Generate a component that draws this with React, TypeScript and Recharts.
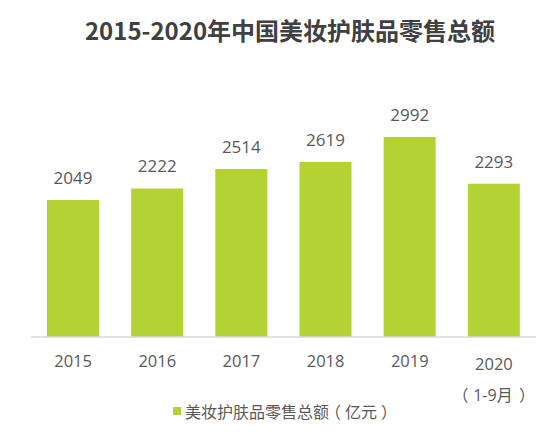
import React from 'react';
import { BarChart, Bar, XAxis, YAxis, LabelList } from 'recharts';

const title = '2015-2020年中国美妆护肤品零售总额';
const years = ['2015', '2016', '2017', '2018', '2019', '2020'];
const subLabels = ['', '', '', '', '', '（1-9月）'];
const retail = [2049, 2222, 2514, 2619, 2992, 2293];
const seriesName = '美妆护肤品零售总额（亿元）';

const data = years.map((y, i) => ({ year: y, sub: subLabels[i], value: retail[i] }));

const BAR = '#b3d334';
const TXT = '#595959';
const FONT = '"Open Sans", "Noto Sans CJK SC", sans-serif';
const halt: any = { fontFeatureSettings: '"halt"' };

// split a label into [open paren, inner, close paren] if wrapped in fullwidth parens
const splitParen = (s: string) => {
  const m = s.match(/^(.*?)（(.*)）$/);
  return m ? { pre: m[1], inner: m[2] } : null;
};

const Tick = (props: any) => {
  const { x, y, payload, index } = props;
  const sub = subLabels[index] ?? '';
  if (sub) {
    const p = splitParen(sub);
    return (
      <g>
        <text x={x} y={y + 33} textAnchor="middle" fill={TXT} fontSize={16.5} fontFamily={FONT}>{payload.value}</text>
        {p ? (
          <text y={y + 64} textAnchor="middle" fill={TXT} fontSize={16} fontFamily={FONT}>
            <tspan x={x - 29.5} style={halt}>（</tspan>
            <tspan x={x - 1}>{p.inner}</tspan>
            <tspan x={x + 29} style={halt}>）</tspan>
          </text>
        ) : (
          <text x={x} y={y + 64} textAnchor="middle" fill={TXT} fontSize={16} fontFamily={FONT}>{sub}</text>
        )}
      </g>
    );
  }
  return (
    <text x={x} y={y + 30} textAnchor="middle" fill={TXT} fontSize={16.5} fontFamily={FONT}>{payload.value}</text>
  );
};

const parenBox: any = { display: 'inline-block', width: '1em', textAlign: 'center', fontFeatureSettings: '"halt"' };

const LegendText = ({ text }: { text: string }) => {
  const p = splitParen(text);
  if (!p) return <span>{text}</span>;
  return (
    <span style={{ whiteSpace: 'nowrap' }}>
      {p.pre}
      <span style={parenBox}>（</span>
      {p.inner}
      <span style={parenBox}>）</span>
    </span>
  );
};

export default function App() {
  return (
    <div style={{ position: 'absolute', left: 0, top: 0, width: 553, height: 432, background: '#fff', overflow: 'hidden' }}>
      <div style={{ position: 'absolute', left: 0, top: 13, width: 580, textAlign: 'center', fontFamily: '"Noto Sans CJK SC", sans-serif', fontWeight: 700, fontSize: 24, color: '#404040', lineHeight: '34px' }}>
        {title}
      </div>
      <BarChart width={553} height={432} data={data} margin={{ top: 103, right: 17, left: 31, bottom: 35 }}>
        <YAxis hide domain={[0, 3500]} />
        <XAxis dataKey="year" height={60} tickLine={false} tickSize={0} tickMargin={0} axisLine={{ stroke: '#d9d9d9', strokeWidth: 1.5 }} tick={<Tick />} interval={0} />
        <Bar dataKey="value" fill={BAR} barSize={52} isAnimationActive={false}>
          <LabelList dataKey="value" position="top" offset={16} fill={TXT} fontSize={17} fontFamily={FONT} />
        </Bar>
      </BarChart>
      <div style={{ position: 'absolute', left: 173, top: 401, display: 'flex', alignItems: 'center', fontFamily: '"Noto Sans CJK SC", sans-serif', fontSize: 16, color: TXT, lineHeight: '20px' }}>
        <span style={{ display: 'inline-block', width: 8, height: 8, background: BAR, marginRight: 4 }} />
        <LegendText text={seriesName} />
      </div>
    </div>
  );
}
